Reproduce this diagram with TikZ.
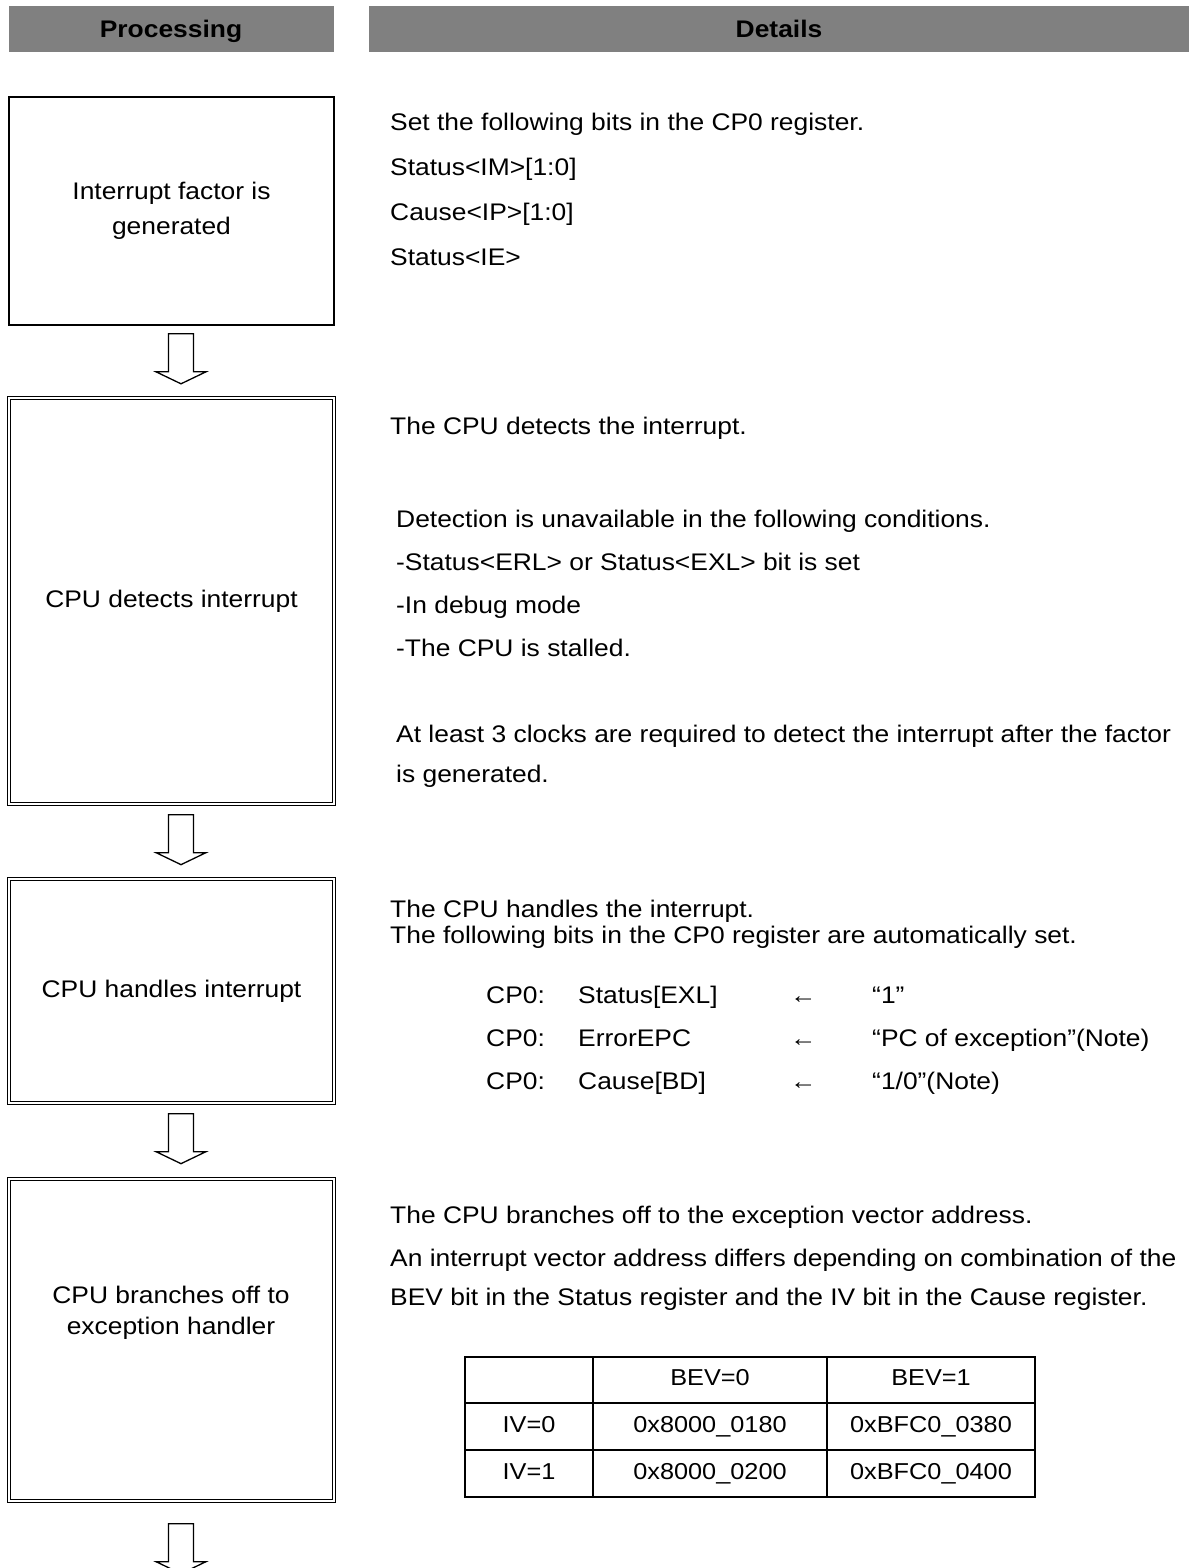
\documentclass[tikz,border=0pt]{standalone}
\usepackage{graphicx}
\usepackage{fontspec}
\setmainfont{Liberation Sans}
\usetikzlibrary{calc}
\definecolor{hdrgray}{HTML}{808080}
\newcommand{\fsz}{\fontsize{24}{29}\selectfont}
\newcommand{\tsz}{\fontsize{23}{28}\selectfont}
\newcommand{\wx}[1]{\scalebox{1.1}[1]{#1}}
\begin{document}
\begin{tikzpicture}[x=1pt,y=-1pt,
  hdr/.style={fill=hdrgray, draw=none, inner sep=0pt, font=\bfseries\fsz},
  sbox/.style={draw, line width=1.6pt, minimum width=325pt, align=center, font=\fsz, inner sep=0pt},
  dbox/.style={draw, line width=1.3pt, double, double distance=2.2pt, minimum width=325pt, align=center, font=\fsz, inner sep=0pt},
  txt/.style={anchor=base west, inner sep=0pt, font=\fsz},
  cell/.style={anchor=center, inner sep=0pt, font=\tsz, text height=16pt, text depth=5pt},
  blockarrow/.pic={\draw[line width=1.3pt, line join=miter, fill=white]
     (-12.5,0) -- (-12.5,38) -- (-25,38) -- (0,50) -- (25,38) -- (12.5,38) -- (12.5,0) -- cycle;}
]
\useasboundingbox (0,0) rectangle (1189,1568);

% headers
\node[hdr, minimum width=325pt, minimum height=46pt] (hp) at (171,29) {};
\node[hdr, minimum width=820pt, minimum height=46pt] (hd) at (779,29) {};
\node[anchor=base, inner sep=0pt, font=\bfseries\fsz] (hpt) at (171,38) {\wx{Processing}};
\node[anchor=base, inner sep=0pt, font=\bfseries\fsz] (hdt) at (779,38) {\wx{Details}};

% processing boxes
\node[sbox, minimum height=228pt] (b1) at (171.5,211) {\wx{Interrupt factor is}\\[6pt]\wx{generated}};
\node[dbox, minimum height=406pt] (b2) at (171.5,601) {\wx{CPU detects interrupt}};
\node[dbox, minimum height=224pt] (b3) at (171.5,991) {\wx{CPU handles interrupt}};
\node[dbox, minimum height=322pt] (b4) at (171.5,1340) {};
\node[inner sep=0pt, align=center, font=\fsz] (b4t) at (171,1313) {\wx{CPU branches off to}\\[2pt]\wx{exception handler}};

% block arrows
\path (b1.south) ++(9.5,8) coordinate (a1);
\path (b2.south) ++(9.5,10) coordinate (a2);
\path (b3.south) ++(9.5,10) coordinate (a3);
\path (b4.south) ++(9.5,22) coordinate (a4);
\pic at (a1) {blockarrow};
\pic at (a2) {blockarrow};
\pic at (a3) {blockarrow};
\pic at (a4) {blockarrow};

% details for box 1
\node[txt] (d11) at (390,130.5) {\wx{Set the following bits in the CP0 register.}};
\node[txt] (d12) at (390,175.5) {\wx{Status<IM>[1:0]}};
\node[txt] (d13) at (390,220.5) {\wx{Cause<IP>[1:0]}};
\node[txt] (d14) at (390,265.5) {\wx{Status<IE>}};

% details for box 2
\node[txt] (d21) at (390,434.5) {\wx{The CPU detects the interrupt.}};
\node[txt] (d22) at (396,527.5) {\wx{Detection is unavailable in the following conditions.}};
\node[txt] (d23) at (396,570.5) {\wx{-Status<ERL> or Status<EXL> bit is set}};
\node[txt] (d24) at (396,613.5) {\wx{-In debug mode}};
\node[txt] (d25) at (396,656.5) {\wx{-The CPU is stalled.}};
\node[txt] (d26) at (396,742.5) {\wx{At least 3 clocks are required to detect the interrupt after the factor}};
\node[txt] (d27) at (396,782.5) {\wx{is generated.}};

% details for box 3
\node[txt] (d31) at (390,917.5) {\wx{The CPU handles the interrupt.}};
\node[txt] (d32) at (390,943.5) {\wx{The following bits in the CP0 register are automatically set.}};
\foreach \y/\reg/\val [count=\i] in {1003.5/{Status[EXL]}/{“1”}, 1046.5/{ErrorEPC}/{“PC of exception”(Note)}, 1089.5/{Cause[BD]}/{“1/0”(Note)}}{
  \node[txt] (c\i a) at (486,\y) {\wx{CP0:}};
  \node[txt] (c\i b) at (578,\y) {\wx{\reg}};
  \node[txt] (c\i c) at (790,\y) {\wx{←}};
  \node[txt] (c\i d) at (872,\y) {\wx{\val}};
}

% details for box 4
\node[txt] (d41) at (390,1223.5) {\wx{The CPU branches off to the exception vector address.}};
\node[txt] (d42) at (390,1266.5) {\wx{An interrupt vector address differs depending on combination of the}};
\node[txt] (d43) at (390,1305.5) {\wx{BEV bit in the Status register and the IV bit in the Cause register.}};

% table
\draw[line width=1.3pt] (465,1357) rectangle (1035,1497);
\draw[line width=1.3pt] (465,1403) -- (1035,1403);
\draw[line width=1.3pt] (465,1450) -- (1035,1450);
\draw[line width=1.3pt] (593,1357) -- (593,1497);
\draw[line width=1.3pt] (827,1357) -- (827,1497);
\node[cell] (t12) at (710,1380) {\wx{BEV=0}};
\node[cell] (t13) at (931,1380) {\wx{BEV=1}};
\node[cell] (t21) at (529,1426.5) {\wx{IV=0}};
\node[cell] (t22) at (710,1426.5) {\wx{0x8000\_0180}};
\node[cell] (t23) at (931,1426.5) {\wx{0xBFC0\_0380}};
\node[cell] (t31) at (529,1473.5) {\wx{IV=1}};
\node[cell] (t32) at (710,1473.5) {\wx{0x8000\_0200}};
\node[cell] (t33) at (931,1473.5) {\wx{0xBFC0\_0400}};
\end{tikzpicture}
\end{document}
